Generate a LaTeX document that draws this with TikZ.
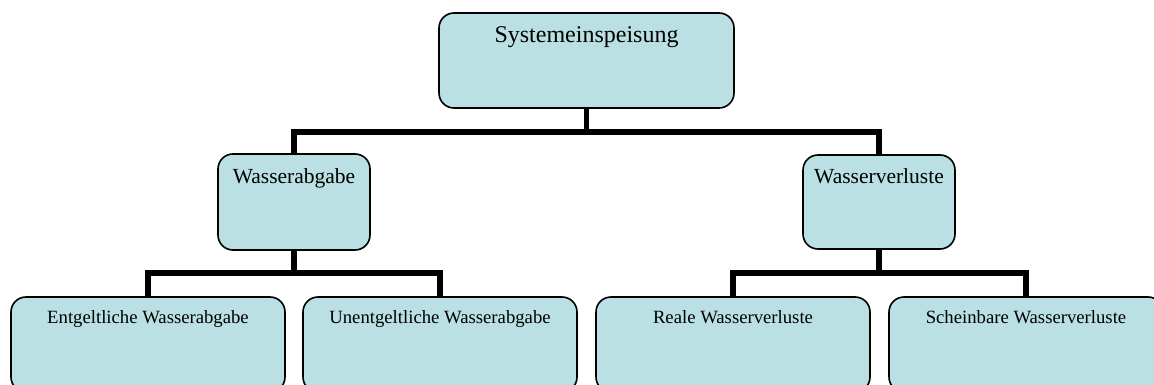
\documentclass[tikz,border=0pt]{standalone}
\usepackage{fontspec}
\setmainfont{Liberation Serif}
\definecolor{boxfill}{RGB}{186,224,227}
\begin{document}
\begin{tikzpicture}[x=1pt,y=-1pt,
  box/.style={draw=black,line width=1.6pt,fill=boxfill,rounded corners=15pt,inner sep=0pt},
  conn/.style={line width=5.5pt,line join=miter,line cap=butt},
  ttop/.style={anchor=base,inner sep=0pt,font=\fontsize{24}{28}\selectfont},
  tmid/.style={anchor=base,inner sep=0pt,font=\fontsize{21.5}{25}\selectfont},
  tlow/.style={anchor=base,inner sep=0pt,font=\fontsize{18.7}{22}\selectfont}]
\useasboundingbox (0,0) rectangle (1154,385);
\clip (0,0) rectangle (1154,385);
% boxes
\node[box,minimum width=295pt,minimum height=95pt] (top) at (586.5,60.5) {};
\node[box,minimum width=152pt,minimum height=96pt] (wa) at (294,202) {};
\node[box,minimum width=152pt,minimum height=94pt] (wv) at (879,202) {};
\node[box,minimum width=274pt,minimum height=95pt] (b1) at (148,344.5) {};
\node[box,minimum width=274pt,minimum height=95pt] (b2) at (440,344.5) {};
\node[box,minimum width=274pt,minimum height=95pt] (b3) at (733,344.5) {};
\node[box,minimum width=274pt,minimum height=95pt] (b4) at (1026,344.5) {};
% texts
\node[ttop] (ttop) at (586.5,43) {Systemeinspeisung};
\node[tmid] (twa) at (294,183) {Wasserabgabe};
\node[tmid] (twv) at (879,183) {Wasserverluste};
\node[tlow] (tb1) at (148,323) {Entgeltliche Wasserabgabe};
\node[tlow] (tb2) at (440,323) {Unentgeltliche Wasserabgabe};
\node[tlow] (tb3) at (733,323) {Reale Wasserverluste};
\node[tlow] (tb4) at (1026,323) {Scheinbare Wasserverluste};
% bar levels
\coordinate (bar1) at (0,132);
\coordinate (bar2) at (0,273);
% connectors
\draw[conn] (top.south) -- (top.south |- bar1);
\draw[conn] (wa.north) |- (wv.north |- bar1) -- (wv.north);
\draw[conn] (wa.south) -- (wa.south |- bar2);
\draw[conn] (b1.north) |- (b2.north |- bar2) -- (b2.north);
\draw[conn] (wv.south) -- (wv.south |- bar2);
\draw[conn] (b3.north) |- (b4.north |- bar2) -- (b4.north);
\end{tikzpicture}
\end{document}
